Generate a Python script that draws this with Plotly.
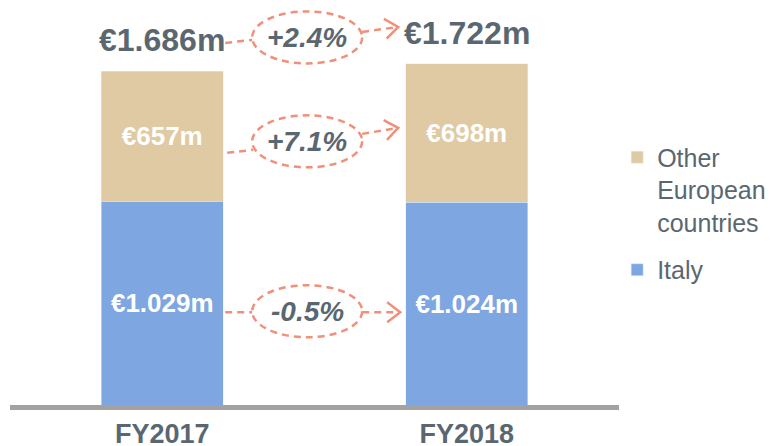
import math
import plotly.graph_objects as go

YEARS = ["FY2017", "FY2018"]
ITALY = [1029, 1024]
OTHER = [657, 698]
TOTAL = [1686, 1722]
ITALY_LABELS = ["€1.029m", "€1.024m"]
OTHER_LABELS = ["€657m", "€698m"]
TOTAL_LABELS = ["€1.686m", "€1.722m"]
GROWTH = ["-0.5%", "+7.1%", "+2.4%"]  # Italy, Other European, total

BLUE = "#7ea6e0"
TAN = "#dfcaa3"
GREY_TXT = "#5b6770"
ORANGE = "#f0907a"
FONT = "Liberation Sans, Arial, sans-serif"

fig = go.Figure()
fig.add_trace(go.Bar(
    x=YEARS, y=ITALY, name="Italy", marker_color=BLUE, width=0.4,
    text=ITALY_LABELS, textposition="inside", insidetextanchor="middle",
    textfont=dict(color="white", size=26, family=FONT, weight="bold"),
    legendgroup="it", legendrank=2, hoverinfo="skip",
))
fig.add_trace(go.Bar(
    x=YEARS, y=OTHER, name="Other<br>European<br>countries", marker_color=TAN, width=0.4,
    text=OTHER_LABELS, textposition="inside", insidetextanchor="middle",
    textfont=dict(color="white", size=26, family=FONT, weight="bold"),
    legendgroup="oth", legendrank=1, hoverinfo="skip",
))

# totals above the stacks
for yr, tot, lab in zip(YEARS, TOTAL, TOTAL_LABELS):
    fig.add_annotation(x=yr, y=tot, text=lab, showarrow=False, yanchor="middle", yshift=31,
                       font=dict(size=32, color=GREY_TXT, family=FONT, weight="bold"))

# growth call-outs between the bars: dashed ellipse + dashed connectors
ANCHOR_X = 0.476
row_y = [ITALY[0] * 0.46, ITALY[0] + OTHER[0] * 0.46, TOTAL[0] + 170]
# pixel offsets from ellipse centre (y up): left tail, left end, right start, arrow tip
row_geo = [
    [(-82, -1), (-55, -1), (55, -1), (93, -1)],
    [(-80, -11.5), (-54, -8.5), (55, 7.5), (91, 13.5)],
    [(-82, -5.5), (-55, -2.5), (55, 5.5), (91, 10.5)],
]

def pix_shape(yc, **kw):
    return dict(xref="x", yref="y", xsizemode="pixel", ysizemode="pixel",
                xanchor=ANCHOR_X, yanchor=yc, layer="above", **kw)

dash_line = dict(color=ORANGE, width=2.5, dash="7px,5px")
for yc, geo, txt in zip(row_y, row_geo, GROWTH):
    a, b, c, d = geo
    fig.add_shape(pix_shape(yc, type="circle", x0=-55, x1=55, y0=-26, y1=26, line=dash_line))
    fig.add_shape(pix_shape(yc, type="path", path=f"M{a[0]},{a[1]} L{b[0]},{b[1]}", line=dash_line))
    fig.add_shape(pix_shape(yc, type="path", path=f"M{c[0]},{c[1]} L{d[0]},{d[1]}", line=dash_line))
    # open arrow head
    ang = math.atan2(d[1] - c[1], d[0] - c[0])
    L, W = 13, 10
    bx, by = d[0] - L * math.cos(ang), d[1] - L * math.sin(ang)
    nx, ny = -math.sin(ang), math.cos(ang)
    p1 = (bx + W * nx, by + W * ny)
    p2 = (bx - W * nx, by - W * ny)
    fig.add_shape(pix_shape(yc, type="path",
                            path=f"M{p1[0]:.1f},{p1[1]:.1f} L{d[0]},{d[1]} L{p2[0]:.1f},{p2[1]:.1f}",
                            line=dict(color=ORANGE, width=2.5)))
    fig.add_annotation(x=ANCHOR_X, y=yc, text=f"<i>{txt}</i>", showarrow=False,
                       font=dict(size=28, color=GREY_TXT, family=FONT, weight="bold"))

fig.update_layout(
    barmode="stack",
    width=775, height=446,
    margin=dict(l=10, r=156, t=0, b=41),
    paper_bgcolor="white", plot_bgcolor="white",
    font=dict(family=FONT, color=GREY_TXT),
    xaxis=dict(showline=True, linecolor="#a2a2a2", linewidth=5, ticks="", ticklabelstandoff=1,
               automargin=False,
               tickfont=dict(size=27, color=GREY_TXT, family=FONT, weight="bold"),
               showgrid=False, zeroline=False, fixedrange=True),
    yaxis=dict(range=[0, 2045], visible=False, showgrid=False, zeroline=False, fixedrange=True),
    legend=dict(x=0.997, xanchor="left", y=0.668, yanchor="top", valign="top",
                traceorder="grouped", tracegroupgap=12,
                font=dict(size=25, color=GREY_TXT, family=FONT), bgcolor="rgba(0,0,0,0)"),
    showlegend=True,
)

# drop the page's default body margin so the figure sits at the window's corner
fig.write_html("out.html", config={"displayModeBar": False},
               post_script="document.body.style.margin='0';")
